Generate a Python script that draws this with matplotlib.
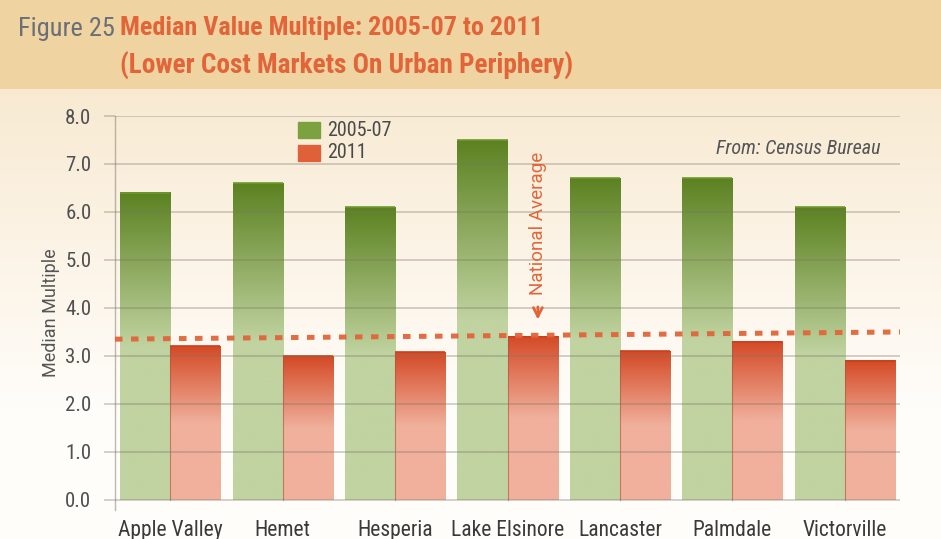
import numpy as np
import matplotlib
matplotlib.use("Agg")
import matplotlib.pyplot as plt
from matplotlib.colors import to_rgb
from matplotlib.patches import Rectangle

# ---- data ----
cities = ["Apple Valley", "Hemet", "Hesperia", "Lake Elsinore", "Lancaster", "Palmdale", "Victorville"]
v2005_07 = [6.4, 6.6, 6.1, 7.5, 6.7, 6.7, 6.1]
v2011 = [3.2, 3.0, 3.08, 3.4, 3.1, 3.3, 2.9]
national_avg = [3.35, 3.5]   # left end, right end of the dashed line
yticks = [0.0, 1.0, 2.0, 3.0, 4.0, 5.0, 6.0, 7.0, 8.0]
series_labels = ["2005-07", "2011"]

W, H = 941, 539
fig = plt.figure(figsize=(W / 100, H / 100), dpi=100)

COND = ["Roboto Condensed", "DejaVu Sans"]
REG = ["Roboto", "DejaVu Sans"]

# ---- background ----
bg = fig.add_axes([0, 0, 1, 1], zorder=-10)
bg.axis("off")
img = np.zeros((H, W, 3))
banner = np.array(to_rgb("#F0D4A2"))
top = np.array(to_rgb("#F8EAD2"))
bot = np.array(to_rgb("#FFFDFA"))
for r in range(H):
    if r < 89:
        img[r] = banner
    else:
        t = min(1.0, (r - 89) / 320.0)
        img[r] = top * (1 - t) + bot * t
bg.imshow(img, extent=[0, 1, 0, 1], aspect="auto", transform=bg.transAxes)
bg.set_xlim(0, 1)
bg.set_ylim(0, 1)

# ---- titles ----
fig.text(18 / W, 1 - 29 / H, "Figure 25", fontsize=19, color="#6B6F78",
         family=COND, va="center", ha="left")
fig.text(120 / W, 1 - 28 / H, "Median Value Multiple: 2005-07 to 2011", fontsize=18.8,
         color="#E2653A", family=COND, weight="bold", va="center", ha="left")
fig.text(120 / W, 1 - 66 / H, "(Lower Cost Markets On Urban Periphery)", fontsize=19.6,
         color="#E2653A", family=COND, weight="bold", va="center", ha="left")

# ---- main axes ----
ax = fig.add_axes([115 / W, (H - 510) / H, (900 - 115) / W, (510 - 116) / H])
ax.set_facecolor("none")
ymin, ymax = -0.21, 8.0
x = np.arange(len(cities))
bw = 0.445


def grad_bar(x0, x1, h, dark, light, edge):
    n = 200
    t = np.linspace(0, 1, n)[:, None]  # 0 bottom, 1 top
    f = np.clip((t - 0.5) / 0.5, 0, 1)
    d = np.array(to_rgb(dark))
    l = np.array(to_rgb(light))
    col = l * (1 - f) + d * f
    arr = np.repeat(col[:, None, :], 2, axis=1)
    ax.imshow(arr[::-1], extent=[x0, x1, 0, h], aspect="auto", zorder=2,
              interpolation="bilinear")
    ax.plot([x0, x1], [h, h], color=edge, lw=1.2, zorder=3, solid_capstyle="butt")


for i in range(len(cities)):
    grad_bar(x[i] - bw, x[i], v2005_07[i], "#5C8221", "#C0D3A0", "#6E9A2E")
    grad_bar(x[i], x[i] + bw, v2011[i], "#D44A26", "#F0B09C", "#C9401E")
    ax.plot([x[i], x[i]], [0, v2011[i]], color="#B0503A", lw=0.8, alpha=0.6, zorder=3)

ax.set_xlim(-0.49, len(cities) - 0.51)
ax.set_ylim(ymin, ymax)

# grid
for yv in yticks:
    ax.axhline(yv, color="#7A7468", lw=1.3, alpha=0.35, zorder=4)

ax.set_yticks(yticks)
ax.set_yticklabels([f"{v:.1f}" for v in yticks], family=COND, fontsize=15, color="#505050")
ax.tick_params(axis="y", length=8, width=1.3, color=(0.48, 0.45, 0.41, 0.35), pad=9)
ax.set_xticks(x)
ax.set_xticklabels(cities, family=COND, fontsize=15.5, color="#3A3A3A")
ax.tick_params(axis="x", length=0, pad=7)
for s in ["top", "right", "bottom"]:
    ax.spines[s].set_visible(False)
ax.spines["left"].set_color((0.48, 0.45, 0.41, 0.5))
ax.spines["left"].set_linewidth(1.0)

ax.set_ylabel("Median Multiple", family=REG, fontsize=13, color="#555555", labelpad=4)

# national average line
xl = ax.get_xlim()
ax.plot([xl[0], xl[1]], national_avg, color="#E2653A", lw=3.6, dashes=(1.5, 1.7),
        solid_capstyle="butt", dash_capstyle="butt", zorder=5, alpha=0.95)

ax.text(3.27, 5.77, "National Average", rotation=90, family=REG, fontsize=13.5,
        color="#E2653A", ha="center", va="center", zorder=6)
ax.annotate("", xy=(3.27, 3.7), xytext=(3.27, 4.08),
            arrowprops=dict(arrowstyle="->", color="#E2653A", lw=2.0,
                            mutation_scale=16), zorder=6)

ax.text(0.975, 0.918, "From: Census Bureau", transform=ax.transAxes, family=COND,
        style="italic", fontsize=14.5, color="#555555", ha="right", va="center")

# legend
lx = 298 / W
fig.patches.append(Rectangle((lx, 1 - 138 / H), 22 / W, 16 / H, transform=fig.transFigure,
                             color="#7BA23F", zorder=10))
fig.patches.append(Rectangle((lx, 1 - 161 / H), 22 / W, 16 / H, transform=fig.transFigure,
                             color="#E0603A", zorder=10))
fig.text(327 / W, 1 - 130 / H, series_labels[0], family=COND, fontsize=14.5,
         color="#4A4A4A", va="center", ha="left")
fig.text(327 / W, 1 - 153 / H, series_labels[1], family=COND, fontsize=14.5,
         color="#4A4A4A", va="center", ha="left")

fig.savefig("out.png", dpi=100)
